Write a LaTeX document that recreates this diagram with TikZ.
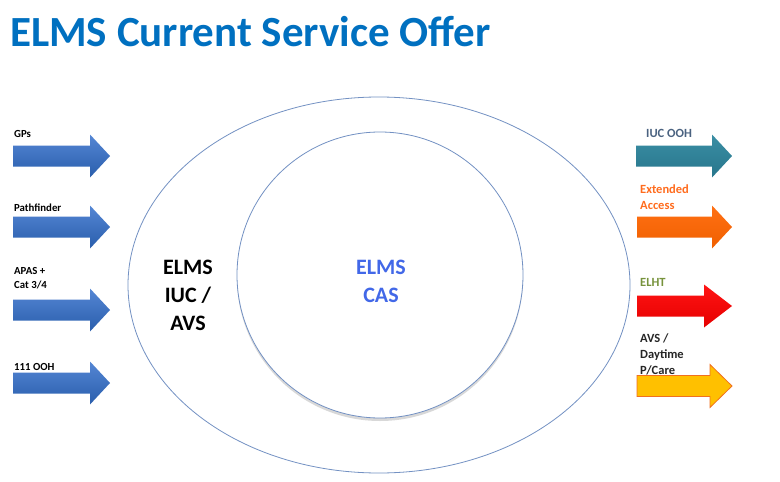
\documentclass[tikz,border=0pt]{standalone}
\usepackage{fontspec}
\setmainfont{Carlito}
\usetikzlibrary{shapes.geometric,shadows}

\definecolor{titleblue}{RGB}{0,112,192}
\definecolor{ringline}{RGB}{115,145,195}
\definecolor{casblue}{RGB}{66,104,232}
\definecolor{inTop}{RGB}{84,134,212}
\definecolor{inBot}{RGB}{42,94,172}
\definecolor{tealTop}{RGB}{58,142,164}
\definecolor{tealBot}{RGB}{40,118,140}
\definecolor{orTop}{RGB}{255,112,20}
\definecolor{orBot}{RGB}{240,96,0}
\definecolor{rdTop}{RGB}{255,20,20}
\definecolor{rdBot}{RGB}{230,0,0}
\definecolor{ylFill}{RGB}{255,192,0}
\definecolor{ylEdge}{RGB}{240,112,32}
\definecolor{iucText}{RGB}{74,98,128}
\definecolor{extText}{RGB}{255,108,30}
\definecolor{elhtText}{RGB}{119,147,60}
\definecolor{avsText}{RGB}{38,38,38}

\tikzset{
  smalllabel/.style={anchor=west, inner sep=0pt, align=left,
    font=\bfseries\fontsize{10.8}{14}\selectfont},
  sidelabel/.style={anchor=west, inner sep=0pt, align=left,
    font=\bfseries\fontsize{12.5}{16}\selectfont},
  ringtext/.style={inner sep=0pt, align=center,
    font=\bfseries\fontsize{22}{28}\selectfont},
  inflow/.style={top color=inTop, bottom color=inBot, draw=none},
}

% block arrow: style, shaft start x, centre y, head base x, tip x
\newcommand\blockarrow[5]{%
  \path[#1] (#2,#3-10.5) -- (#4,#3-10.5) -- (#4,#3-21.5) -- (#5,#3)
    -- (#4,#3+21.5) -- (#4,#3+10.5) -- (#2,#3+10.5) -- cycle;}

\begin{document}
\begin{tikzpicture}[x=1pt,y=-1pt]
  \useasboundingbox[fill=white] (0,0) rectangle (780,482);

  % title
  \node[anchor=base west, inner sep=0pt, text=titleblue,
        font=\bfseries\fontsize{43}{50}\selectfont] (title) at (10,46)
        {ELMS Current Service Offer};

  % service rings
  \node[ellipse, draw=ringline, line width=0.8pt, minimum width=502,
        minimum height=376, inner sep=0pt] (outer) at (379,285) {};
  \node[circle, draw=ringline, line width=0.8pt, fill=white, minimum size=286,
        inner sep=0pt, drop shadow={opacity=0.3, shadow xshift=0pt,
        shadow yshift=-3pt}] (inner) at (380,275) {};

  \node[ringtext] (iuc) at (188,295) {ELMS\\IUC /\\AVS};
  \node[ringtext, text=casblue] (cas) at (381,281) {ELMS\\CAS};

  % incoming referral sources
  \blockarrow{inflow}{13}{156}{90}{110}
  \blockarrow{inflow}{13}{227}{90}{110}
  \blockarrow{inflow}{13}{310}{90}{110}
  \blockarrow{inflow}{13}{383}{90}{110}

  \node[smalllabel] (gps) at (14,134) {GPs};
  \node[smalllabel] (path) at (14,208) {Pathfinder};
  \node[smalllabel] (apas) at (14,278) {APAS +\\Cat 3/4};
  \node[smalllabel] (ooh111) at (14,367) {111 OOH};

  % outgoing services
  \blockarrow{top color=tealTop, bottom color=tealBot}{636}{156}{712}{732}
  \blockarrow{top color=orTop, bottom color=orBot}{637}{227}{712}{732}
  \blockarrow{top color=rdTop, bottom color=rdBot}{637}{306}{704}{732}
  \blockarrow{fill=ylFill, draw=ylEdge, line width=0.8pt}{637}{386}{710}{732}

  \node[sidelabel, text=iucText] (iucooh) at (646,133) {IUC OOH};
  \node[sidelabel, text=extText] (ext) at (640,197) {Extended\\Access};
  \node[sidelabel, text=elhtText] (elht) at (640,282) {ELHT};
  \node[sidelabel, text=avsText] (avs) at (640,354) {AVS /\\Daytime\\P/Care};
\end{tikzpicture}
\end{document}
